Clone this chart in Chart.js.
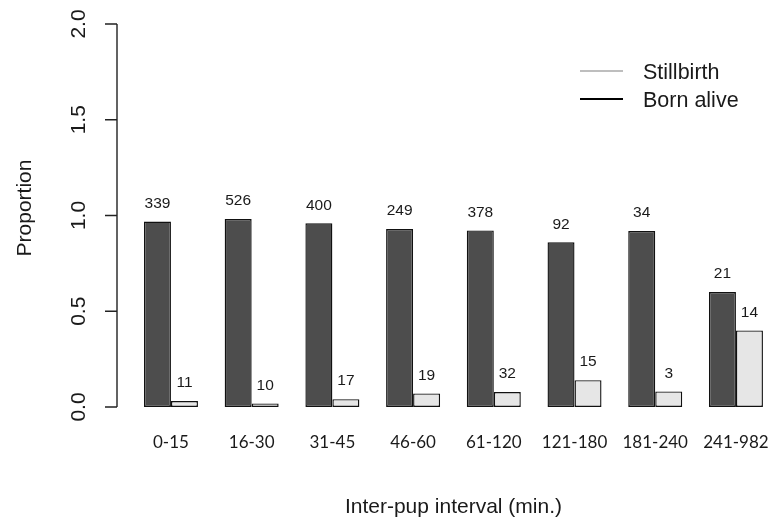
<!DOCTYPE html>
<html>
<head>
<meta charset="utf-8">
<script src="https://cdn.jsdelivr.net/npm/chart.js@4/dist/chart.umd.min.js"></script>
<style>
  html, body { margin: 0; padding: 0; background: #ffffff; }
  #wrap { width: 778px; height: 522px; position: relative; }
</style>
</head>
<body>
<div id="wrap"><canvas id="c" width="778" height="522"></canvas></div>
<script>
// Inter-pup interval classes (minutes)
const categories = ['0-15', '16-30', '31-45', '46-60', '61-120', '121-180', '181-240', '241-982'];
// Number of pups per outcome in each interval class
const bornAliveCounts = [339, 526, 400, 249, 378, 92, 34, 21];
const stillbirthCounts = [11, 10, 17, 19, 32, 15, 3, 14];
// Y axis ticks
const yTicks = [0, 0.5, 1.0, 1.5, 2.0];
const yTickLabels = ['0.0', '0.5', '1.0', '1.5', '2.0'];
const legendLabels = ['Stillbirth', 'Born alive'];

// Proportions within each class
const totals = bornAliveCounts.map((n, i) => n + stillbirthCounts[i]);
const bornAliveProp = bornAliveCounts.map((n, i) => n / totals[i]);
const stillbirthProp = stillbirthCounts.map((n, i) => n / totals[i]);

const ARIAL = '"Liberation Sans", Arial, sans-serif';
const TEXT = '#1a1a1a';

// Counts printed above each bar
const countLabels = {
  id: 'countLabels',
  afterDatasetsDraw(chart) {
    const ctx = chart.ctx;
    ctx.save();
    ctx.font = '15.5px ' + ARIAL;
    ctx.fillStyle = TEXT;
    ctx.textAlign = 'center';
    ctx.textBaseline = 'middle';
    const counts = [bornAliveCounts, stillbirthCounts];
    chart.data.datasets.forEach((ds, di) => {
      chart.getDatasetMeta(di).data.forEach((bar, i) => {
        ctx.fillText(String(counts[di][i]), bar.x, bar.y - 18);
      });
    });
    ctx.restore();
  }
};

// Detached left axis in the R style: line, outward ticks, rotated labels
const leftAxis = {
  id: 'leftAxis',
  afterDraw(chart) {
    const ctx = chart.ctx;
    const y = chart.scales.y;
    const ax = 117;
    ctx.save();
    ctx.strokeStyle = '#222';
    ctx.lineWidth = 1.4;
    ctx.beginPath();
    ctx.moveTo(ax, y.getPixelForValue(yTicks[0]));
    ctx.lineTo(ax, y.getPixelForValue(yTicks[yTicks.length - 1]));
    yTicks.forEach(v => {
      const py = y.getPixelForValue(v);
      ctx.moveTo(ax, py);
      ctx.lineTo(ax - 12, py);
    });
    ctx.stroke();
    ctx.fillStyle = TEXT;
    ctx.font = '21px ' + ARIAL;
    ctx.textAlign = 'center';
    ctx.textBaseline = 'middle';
    yTicks.forEach((v, i) => {
      const py = y.getPixelForValue(v);
      ctx.save();
      ctx.translate(79, py);
      ctx.rotate(-Math.PI / 2);
      ctx.fillText(yTickLabels[i], 0, 0);
      ctx.restore();
    });
    ctx.save();
    ctx.translate(25, 208);
    ctx.rotate(-Math.PI / 2);
    ctx.fillText('Proportion', 0, 0);
    ctx.restore();
    ctx.restore();
  }
};

// Line legend in the upper right
const lineLegend = {
  id: 'lineLegend',
  afterDraw(chart) {
    const ctx = chart.ctx;
    const rows = [
      { label: legendLabels[0], color: '#bebebe', y: 71 },
      { label: legendLabels[1], color: '#000000', y: 99 }
    ];
    ctx.save();
    ctx.font = '21.5px ' + ARIAL;
    ctx.textAlign = 'left';
    ctx.textBaseline = 'middle';
    rows.forEach(r => {
      ctx.strokeStyle = r.color;
      ctx.lineWidth = 2;
      ctx.beginPath();
      ctx.moveTo(580, r.y);
      ctx.lineTo(623, r.y);
      ctx.stroke();
      ctx.fillStyle = TEXT;
      ctx.fillText(r.label, 643, r.y + 2);
    });
    ctx.restore();
  }
};

new Chart(document.getElementById('c'), {
  type: 'bar',
  data: {
    labels: categories,
    datasets: [
      {
        label: legendLabels[1],
        data: bornAliveProp,
        backgroundColor: '#4d4d4d',
        borderColor: '#111111',
        borderWidth: 1.4,
        borderSkipped: false,
        barPercentage: 1,
        categoryPercentage: 0.669
      },
      {
        label: legendLabels[0],
        data: stillbirthProp,
        backgroundColor: '#e6e6e6',
        borderColor: '#111111',
        borderWidth: 1.4,
        borderSkipped: false,
        barPercentage: 1,
        categoryPercentage: 0.669
      }
    ]
  },
  options: {
    responsive: false,
    animation: false,
    devicePixelRatio: 1,
    layout: { padding: { left: 130.6, right: 1.7, top: 24, bottom: 0 } },
    plugins: { legend: { display: false }, tooltip: { enabled: false } },
    scales: {
      x: {
        grid: { display: false, drawTicks: true, tickLength: 22 },
        border: { display: false },
        ticks: {
          padding: 3,
          color: TEXT,
          font: { family: 'Lato, "Open Sans", sans-serif', size: 17 }
        },
        title: {
          display: true,
          text: 'Inter-pup interval (min.)',
          color: TEXT,
          font: { family: ARIAL, size: 21 },
          padding: { top: 0, bottom: 2.4 }
        },
        afterFit(scale) { scale.height = 115; }
      },
      y: {
        display: false,
        min: 0,
        max: 2
      }
    }
  },
  plugins: [countLabels, leftAxis, lineLegend]
});
</script>
</body>
</html>
